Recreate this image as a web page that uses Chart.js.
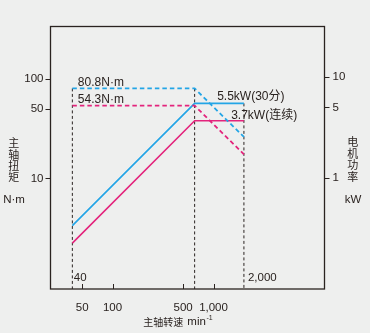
<!DOCTYPE html>
<html>
<head>
<meta charset="utf-8">
<script src="https://cdn.jsdelivr.net/npm/chart.js@4"></script>
<style>
  html, body { margin: 0; background: #eeefee; }
  #wrap { width: 370px; height: 333px; }
</style>
</head>
<body>
<div id="wrap"><canvas id="spindle-chart"></canvas></div>
<script>
// speeds in min-1, torque in N·m (left axis), power in kW (right axis)
const speeds = [40, 650, 2000];
const torque30min = [80.8, 80.8, 26.3];
const torqueCont = [54.3, 54.3, 17.6];
const power30min = [0.338, 5.5, 5.5];
const powerCont = [0.227, 3.7, 3.7];

const speedTicks = [50, 100, 500, 1000];
const torqueTicks = [10, 50, 100];
const powerTicks = [1, 5, 10];

// dashed drop lines: speed, top value, axis the top value belongs to
const markerSpeeds = [40, 650, 2000];
const markerTops = [80.8, 80.8, 5.5];
const markerAxes = ["y", "y", "y2"];

const ink = "#2a2320";
const blue = "#23a5e6";
const pink = "#e3247c";
const fontFamily = '"Liberation Sans", Arial, "Noto Sans CJK SC", sans-serif';

const axisRange = {
  x: [24.3, 12560],
  y: [0.783, 338],
  y2: [0.0796, 31.8],
};

const toPoints = (xs, ys) => xs.map((x, i) => ({ x, y: ys[i] }));

const markerSets = markerSpeeds.map((s, i) => ({
  data: [{ x: s, y: markerTops[i] }, { x: s, y: axisRange[markerAxes[i]][0] }],
  yAxisID: markerAxes[i],
  borderColor: ink,
  borderWidth: 1,
  borderDash: [3, 2.5],
}));

const logAxis = (key, ticks, position, width, padding) => ({
  type: "logarithmic",
  position,
  bounds: "data",
  min: axisRange[key][0],
  max: axisRange[key][1],
  afterBuildTicks: (scale) => { scale.ticks = ticks.map((value) => ({ value })); },
  afterFit: (scale) => { scale.width = width; },
  grid: { drawOnChartArea: false, tickLength: 5, color: ink, lineWidth: 1 },
  border: { display: false },
  ticks: {
    color: ink,
    padding,
    font: { family: fontFamily, size: 11.5 },
    callback: (value) => value.toLocaleString("en-US"),
  },
});

const drawVertical = (ctx, text, x, y, step) => {
  [...text].forEach((ch, i) => ctx.fillText(ch, x, y + i * step));
};

const framePlugin = {
  id: "frame",
  afterDatasetsDraw(chart) {
    const { ctx, chartArea: a, scales } = chart;
    const px = (v) => scales.x.getPixelForValue(v);
    ctx.save();
    ctx.strokeStyle = ink;
    ctx.lineWidth = 1.3;
    ctx.strokeRect(a.left, a.top, a.right - a.left, a.bottom - a.top);

    // bottom ticks point inward
    ctx.lineWidth = 1;
    speedTicks.forEach((v) => {
      const x = Math.round(px(v)) + 0.5;
      ctx.beginPath();
      ctx.moveTo(x, a.bottom);
      ctx.lineTo(x, a.bottom - 5);
      ctx.stroke();
    });

    ctx.fillStyle = ink;
    ctx.textBaseline = "alphabetic";
    ctx.textAlign = "left";
    ctx.font = `12px ${fontFamily}`;
    ctx.fillText("80.8N·m", px(40) + 5.5, scales.y.getPixelForValue(80.8) - 2.5);
    ctx.fillText("54.3N·m", px(40) + 5.5, scales.y.getPixelForValue(54.3) - 2.5);
    ctx.fillText("5.5kW(30分)", px(650) + 22.5, scales.y2.getPixelForValue(5.5) - 3);
    ctx.fillText("3.7kW(连续)", px(650) + 36.5, scales.y2.getPixelForValue(3.7) - 2);

    ctx.font = `11.5px ${fontFamily}`;
    ctx.fillText("40", px(40) + 1.5, a.bottom - 8);
    ctx.fillText("2,000", px(2000) + 4, a.bottom - 8);

    // axis titles
    ctx.textAlign = "center";
    ctx.textBaseline = "middle";
    ctx.font = `11px "Noto Sans CJK SC", sans-serif`;
    drawVertical(ctx, "主轴扭矩", 13.7, 143.3, 11.1);
    drawVertical(ctx, "电机功率", 352.7, 142, 11.5);
    ctx.font = `11.5px ${fontFamily}`;
    ctx.fillText("N·m", 14, 200);
    ctx.fillText("kW", 353, 200);

    ctx.textAlign = "left";
    ctx.font = `10px "Noto Sans CJK SC", sans-serif`;
    ctx.fillText("主轴转速", 143.3, 322);
    ctx.font = `11.5px ${fontFamily}`;
    ctx.fillText("min", 187.3, 322);
    ctx.font = `7px ${fontFamily}`;
    ctx.fillText("-1", 206.5, 318);
    ctx.restore();
  },
};

new Chart(document.getElementById("spindle-chart"), {
  type: "line",
  data: {
    datasets: [
      { data: toPoints(speeds, torque30min), yAxisID: "y", borderColor: blue, borderWidth: 1.8, borderDash: [4.5, 3] },
      { data: toPoints(speeds, torqueCont), yAxisID: "y", borderColor: pink, borderWidth: 1.8, borderDash: [4.5, 3] },
      { data: toPoints(speeds, power30min), yAxisID: "y2", borderColor: blue, borderWidth: 1.6 },
      { data: toPoints(speeds, powerCont), yAxisID: "y2", borderColor: pink, borderWidth: 1.6 },
      ...markerSets,
    ],
  },
  options: {
    responsive: true,
    maintainAspectRatio: false,
    animation: false,
    layout: { padding: { top: 26.5, left: 0, right: 0, bottom: 0 } },
    elements: { point: { radius: 0 }, line: { tension: 0 } },
    plugins: { legend: { display: false }, tooltip: { enabled: false } },
    scales: {
      x: {
        type: "logarithmic",
        bounds: "data",
        min: axisRange.x[0],
        max: axisRange.x[1],
        afterBuildTicks: (scale) => { scale.ticks = speedTicks.map((value) => ({ value })); },
        afterFit: (scale) => { scale.height = 44; },
        grid: { display: false },
        border: { display: false },
        ticks: {
          color: ink,
          padding: 4,
          autoSkip: false,
          maxRotation: 0,
          font: { family: fontFamily, size: 11.5 },
          callback: (value) => value.toLocaleString("en-US"),
        },
      },
      y: logAxis("y", torqueTicks, "left", 50.5, 2),
      y2: logAxis("y2", powerTicks, "right", 45.5, 3),
    },
  },
  plugins: [framePlugin],
});
</script>
</body>
</html>
